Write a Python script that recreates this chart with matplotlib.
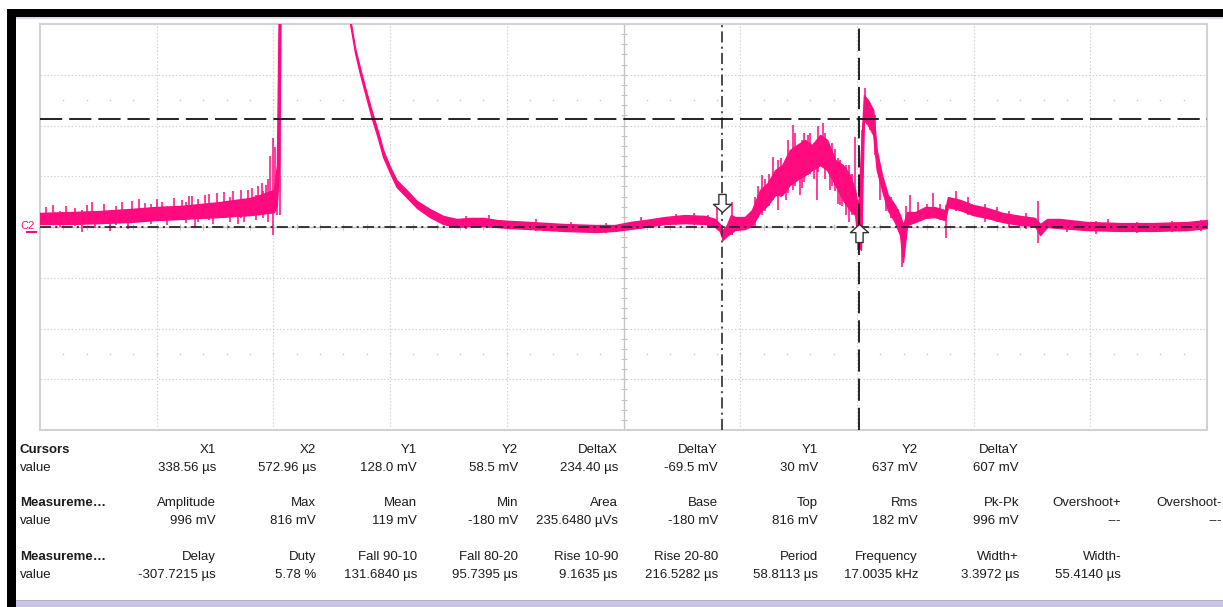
import numpy as np
import matplotlib
matplotlib.use("Agg")
import matplotlib.pyplot as plt
from matplotlib.patches import Rectangle
from matplotlib.path import Path
import matplotlib.transforms as mtransforms

plt.rcParams['font.family'] = ['Liberation Sans', 'DejaVu Sans']
plt.rcParams['lines.scale_dashes'] = False

W, H = 1223, 607

# scope graticule: 10 x 8 divisions
us_per_div = 200
mv_per_div = 285
t_left = -830       # µs at left edge
v_center = 30       # mV at the centre line

# C2 trace, envelope of the noisy band (time in µs, voltage in mV)
# values above the screen (1500) = trace clipped at the top
t_us = [-830, -779, -727, -676, -633, -590, -556, -522, -496, -470,
        -453, -439, -429, -424, -420, -417, -302, -298, -290, -282,
        -273, -262, -250, -242, -230, -219, -202, -184, -162, -139,
        -116, -93, -70, -47, -24, 10, 67, 124, 155, 181,
        207, 241, 275, 310, 327, 335, 340, 347, 354, 361,
        378, 390, 404, 417, 430, 442, 455, 467, 481, 493,
        507, 519, 533, 546, 558, 567, 572, 577, 582, 589,
        598, 604, 613, 623, 635, 644, 649, 656, 670, 687,
        703, 721, 726, 747, 769, 793, 820, 850, 875, 884,
        896, 918, 964, 1021, 1077, 1136, 1170]
v_hi = [109, 114, 120, 131, 142, 148, 159, 170, 182, 193,
        210, 227, 238, 378, 1500, 1500, 1500, 1190, 1035, 929,
        816, 687, 558, 462, 367, 294, 238, 176, 131, 92,
        75, 81, 81, 69, 64, 58, 47, 41, 41, 58,
        69, 86, 97, 92, 75, 47, 13, 41, 97, 86,
        86, 125, 238, 277, 350, 378, 462, 490, 519, 490,
        547, 519, 406, 378, 322, 238, 125, 462, 770, 743,
        687, 462, 322, 210, 154, 97, 41, 114, 114, 142,
        142, 125, 198, 182, 154, 137, 109, 92, 81, 47,
        75, 75, 58, 52, 52, 58, 69]
v_lo = [47, 47, 52, 58, 69, 75, 81, 86, 92, 97,
        103, 109, 114, 154, 400, 1500, 1500, 1160, 1007, 895,
        783, 648, 519, 423, 333, 255, 198, 137, 86, 47,
        30, 36, 36, 30, 24, 19, 8, 2, 8, 19,
        30, 47, 52, 47, 30, 8, -43, -20, -4, 13,
        19, 36, 114, 154, 210, 210, 266, 294, 322, 350,
        378, 350, 266, 182, 125, 97, -71, -99, 631, 603,
        547, 350, 238, 125, 58, -15, -167, 41, 58, 81,
        86, 69, 142, 125, 97, 81, 58, 41, 36, -15,
        30, 24, 13, 8, 8, 13, 24]

# single noise spikes sticking out of the band
spike_t = [-820, -808, -795, -785, -770, -758, -750, -741, -735, -720,
           -710, -700, -690, -680, -672, -660, -650, -640, -630, -621,
           -612, -600, -587, -580, -575, -569, -564, -560, -547, -540,
           -533, -527, -515, -505, -499, -491, -485, -480, -474, -466,
           -460, -456, -450, -447, -443, -440, -436, -431, -427, -424,
           -419, -100, -60, 20, 80, 140, 200, 260, 290, 315,
           330, 356, 395, 400, 408, 413, 420, 426, 435, 440,
           448, 452, 460, 464, 472, 476, 479, 486, 490, 496,
           501, 504, 512, 516, 524, 528, 533, 537, 541, 545,
           551, 556, 562, 567, 572, 579, 584, 593, 601, 610,
           620, 628, 640, 647, 655, 661, 675, 690, 700, 712,
           722, 740, 760, 790, 810, 830, 860, 880, 930, 980,
           1000, 1050, 1110, 1160]
spike_lo = [40, 58, 30, 60, 35, 2, 50, 97, 25, 55,
            8, 40, 60, 20, 109, 60, 97, 45, 70, 109,
            40, 75, 114, 50, 80, 125, 30, 60, 137, 70,
            45, 148, 90, 60, 154, 47, 80, 60, 165, 90,
            70, 100, 182, 80, 125, 60, 154, -15, 125, 97,
            97, 20, 25, 10, 0, -5, 20, 40, 40, 30,
            41, -15, 30, 80, 97, 120, 150, 182, 125, 200,
            180, 220, 238, 260, 210, 250, 280, 322, 330, 300,
            182, 340, 378, 300, 238, 260, 230, 160, 154, 150,
            97, 60, 100, 125, -99, -15, 631, 575, 434, 180,
            120, 80, 20, -195, 30, 41, 60, 80, 86, 70,
            -32, 120, 100, 60, 60, 30, 20, -60, 0, -10,
            5, -5, 0, 5]
spike_hi = [140, 154, 120, 150, 135, 125, 155, 170, 110, 160,
            97, 150, 170, 120, 176, 185, 165, 160, 190, 170,
            150, 195, 182, 170, 205, 204, 103, 190, 210, 215,
            160, 221, 225, 200, 232, 114, 240, 190, 238, 250,
            210, 260, 277, 230, 266, 300, 429, 530, 479, 333,
            1500, 90, 95, 75, 60, 55, 85, 105, 110, 100,
            137, 170, 200, 260, 322, 300, 330, 423, 406, 420,
            380, 520, 603, 560, 462, 520, 560, 547, 560, 500,
            434, 600, 614, 560, 462, 500, 470, 420, 406, 380,
            378, 380, 330, 535, 182, 575, 811, 715, 659, 300,
            230, 200, 130, 41, 150, 210, 170, 160, 221, 160,
            154, 230, 200, 160, 140, 120, 110, 176, 70, 65,
            75, 60, 65, 70]

# cursors
x1_us, x2_us = 338.56, 572.96
y1_mv, y2_mv = 30, 637
x1_tip_mv, x2_tip_mv = 114, 47   # where the cursor arrows touch the trace

# measurement table
cursor_head = ['X1', 'X2', 'Y1', 'Y2', 'DeltaX', 'DeltaY', 'Y1', 'Y2', 'DeltaY']
cursor_vals = ['338.56 µs', '572.96 µs', '128.0 mV', '58.5 mV', '234.40 µs',
               '-69.5 mV', '30 mV', '637 mV', '607 mV']
meas1_head = ['Amplitude', 'Max', 'Mean', 'Min', 'Area', 'Base', 'Top', 'Rms',
              'Pk-Pk', 'Overshoot+', 'Overshoot-']
meas1_vals = ['996 mV', '816 mV', '119 mV', '-180 mV', '235.6480 µVs', '-180 mV',
              '816 mV', '182 mV', '996 mV', '---', '---']
meas2_head = ['Delay', 'Duty', 'Fall 90-10', 'Fall 80-20', 'Rise 10-90',
              'Rise 20-80', 'Period', 'Frequency', 'Width+', 'Width-']
meas2_vals = ['-307.7215 µs', '5.78 %', '131.6840 µs', '95.7395 µs', '9.1635 µs',
              '216.5282 µs', '58.8113 µs', '17.0035 kHz', '3.3972 µs', '55.4140 µs']

PINK = '#ff0a7f'


def fx(x):
    return x / W


def fy(y):
    return 1 - y / H


fig = plt.figure(figsize=(W / 100, H / 100), dpi=100)
fig.patch.set_facecolor('white')

# window frame
fig.patches.append(Rectangle((fx(7), fy(17)), fx(1216), 8 / H, transform=fig.transFigure,
                             facecolor='black', edgecolor='none'))
fig.patches.append(Rectangle((fx(7), fy(607)), fx(9), 598 / H, transform=fig.transFigure,
                             facecolor='black', edgecolor='none'))
fig.patches.append(Rectangle((fx(16), fy(19)), fx(1207), 2 / H, transform=fig.transFigure,
                             facecolor='#dcdae6', edgecolor='none'))
fig.patches.append(Rectangle((fx(16), fy(607)), fx(1207), 6 / H, transform=fig.transFigure,
                             facecolor='#cbc4e4', edgecolor='none'))
fig.patches.append(Rectangle((fx(16), fy(601)), fx(1207), 1 / H, transform=fig.transFigure,
                             facecolor='#b0b0b8', edgecolor='none'))

ax = fig.add_axes([fx(40), fy(430), 1167 / W, 406 / H])
t_right = t_left + 10 * us_per_div
v_bottom = v_center - 4 * mv_per_div
v_top = v_center + 4 * mv_per_div
ax.set_xlim(t_left, t_right)
ax.set_ylim(v_bottom, v_top)
ax.set_xticks([])
ax.set_yticks([])
for s in ax.spines.values():
    s.set_color('#d2d2d2')
    s.set_linewidth(1.5)

# graticule
t_center = t_left + 5 * us_per_div
for k in range(1, 10):
    t = t_left + k * us_per_div
    if k == 5:
        ax.axvline(t, color='#c4c4c4', lw=1.0, zorder=1)
    else:
        ax.axvline(t, color='#cfcfcf', lw=0.8, ls=(0, (1, 1.5)), zorder=1)
for k in range(1, 8):
    v = v_bottom + k * mv_per_div
    if k == 4:
        ax.axhline(v, color='#c4c4c4', lw=1.0, zorder=1)
    else:
        ax.axhline(v, color='#cfcfcf', lw=0.8, ls=(0, (1, 1.5)), zorder=1)

sub_t = np.arange(t_left, t_right + 1, us_per_div / 5)
sub_v = np.arange(v_bottom, v_top + 1, mv_per_div / 5)
ax.plot(sub_t, np.full_like(sub_t, v_center), ls='none', marker='|', ms=5,
        mew=0.8, color='#c4c4c4', zorder=1)
ax.plot(np.full_like(sub_v, t_center), sub_v, ls='none', marker='_', ms=5,
        mew=0.8, color='#c4c4c4', zorder=1)
for vrow in (v_center + 2.5 * mv_per_div, v_center - 2.5 * mv_per_div):
    ax.plot(sub_t, np.full_like(sub_t, vrow), ls='none', marker='s', ms=1.0,
            mew=0, color='#c8c8c8', zorder=1)

# trace
ax.fill_between(t_us, v_lo, v_hi, color=PINK, lw=1.0, zorder=3)
ax.vlines(spike_t, spike_lo, spike_hi, colors=PINK, lw=1.1, zorder=3)

# cursors
ax.axvline(x1_us, color='#3c3c3c', lw=1.3, dashes=(8, 3, 1.5, 3), zorder=4)
ax.axhline(y1_mv, color='#2a2a2a', lw=1.3, dashes=(8, 3, 1.5, 3), zorder=4)
ax.axvline(x2_us, color='#111111', lw=1.3, dashes=(16, 5), zorder=4)
ax.axhline(y2_mv, color='#111111', lw=1.3, dashes=(16, 5), zorder=4)

down_arrow = Path([(-0.2, 1), (0.2, 1), (0.2, 0.45), (0.5, 0.45), (0, 0),
                   (-0.5, 0.45), (-0.2, 0.45), (-0.2, 1)], closed=True)
up_arrow = Path([(-0.2, -1), (0.2, -1), (0.2, -0.45), (0.5, -0.45), (0, 0),
                 (-0.5, -0.45), (-0.2, -0.45), (-0.2, -1)], closed=True)
ax.plot([x1_us], [x1_tip_mv], marker=down_arrow, ms=26, mfc='white', mec='#333333',
        mew=1.0, zorder=5)
ax.plot([x2_us], [x2_tip_mv], marker=up_arrow, ms=26, mfc='white', mec='#333333',
        mew=1.0, zorder=5)

# channel label and ground marker
blend = mtransforms.blended_transform_factory(ax.transAxes, ax.transData)
ax.text(-0.017, v_center + 8, 'C2', transform=blend, ha='left', va='center',
        fontsize=8, color=PINK, clip_on=False)
ax.plot([-0.011, -0.003], [0, 0], transform=blend, color=PINK, lw=1.5, clip_on=False)

# measurement table
col_right = [216, 316, 417, 518, 618, 718, 818, 918, 1019, 1121, 1222]
fs = 9.5
txt = '#1c1c1c'
rows = [('Cursors', cursor_head, cursor_vals, 450, 468),
        ('Measureme…', meas1_head, meas1_vals, 503, 521),
        ('Measureme…', meas2_head, meas2_vals, 557, 575)]
for title, heads, vals, yh, yv in rows:
    fig.text(fx(20), fy(yh), title, ha='left', va='center', fontsize=fs,
             fontweight='bold', color=txt)
    fig.text(fx(20), fy(yv), 'value', ha='left', va='center', fontsize=fs, color=txt)
    for i, (h, v) in enumerate(zip(heads, vals)):
        fig.text(fx(col_right[i]), fy(yh), h, ha='right', va='center', fontsize=fs, color=txt)
        fig.text(fx(col_right[i]), fy(yv), v, ha='right', va='center', fontsize=fs, color=txt)

fig.savefig('out.png', dpi=100, facecolor='white')
